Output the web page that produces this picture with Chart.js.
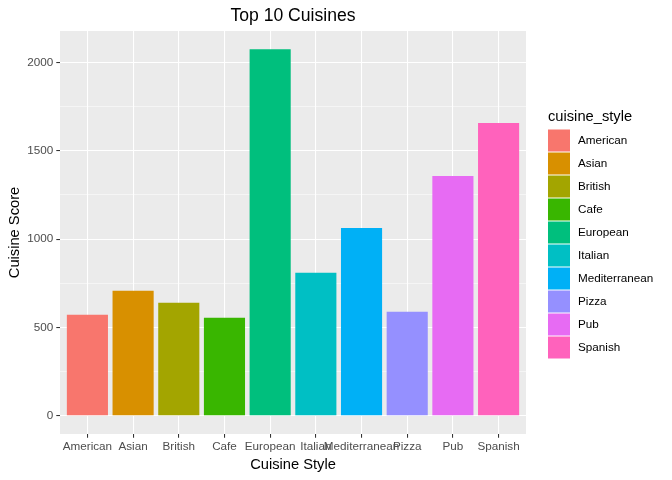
<!DOCTYPE html>
<html>
<head>
<meta charset="utf-8">
<script src="https://cdn.jsdelivr.net/npm/chart.js@4.4.1/dist/chart.umd.min.js"></script>
<style>
  html, body { margin: 0; padding: 0; background: #fff; }
  #wrap { width: 672px; height: 480px; }
</style>
</head>
<body>
<div id="wrap"><canvas id="chart" width="672" height="480"></canvas></div>
<script>
const cuisines = ['American', 'Asian', 'British', 'Cafe', 'European', 'Italian', 'Mediterranean', 'Pizza', 'Pub', 'Spanish'];
const scores = [571, 707, 639, 554, 2075, 809, 1063, 588, 1357, 1657];
const colors = ['#F8766D', '#D89000', '#A3A500', '#39B600', '#00BF7D', '#00BFC4', '#00B0F6', '#9590FF', '#E76BF3', '#FF62BC'];
const yTicks = [0, 250, 500, 750, 1000, 1250, 1500, 1750, 2000];

const FONT = 'Liberation Sans, Arial, sans-serif';
const maxScore = Math.max(...scores);

const panelBg = {
    id: 'panelBg',
    beforeDraw(chart) {
        const a = chart.chartArea;
        const ctx = chart.ctx;
        ctx.save();
        ctx.fillStyle = '#EBEBEB';
        ctx.fillRect(a.left, a.top, a.right - a.left, a.bottom - a.top);
        ctx.restore();
    }
};

const extras = {
    id: 'extras',
    afterDraw(chart) {
        const a = chart.chartArea;
        const ctx = chart.ctx;
        ctx.save();
        // title
        ctx.fillStyle = '#000';
        ctx.font = '17.6px ' + FONT;
        ctx.textAlign = 'center';
        ctx.textBaseline = 'middle';
        ctx.fillText('Top 10 Cuisines', (a.left + a.right) / 2, 16);

        // legend
        ctx.textAlign = 'left';
        ctx.font = '14.7px ' + FONT;
        ctx.fillText('cuisine_style', 548, 117);
        ctx.font = '11.7px ' + FONT;
        cuisines.forEach((c, i) => {
            const y = 129.5 + i * 23;
            ctx.fillStyle = colors[i];
            ctx.fillRect(548, y, 22, 22);
            ctx.fillStyle = '#000';
            ctx.fillText(c, 578, y + 11);
        });
        ctx.restore();
    }
};

new Chart(document.getElementById('chart'), {
    type: 'bar',
    data: {
        datasets: [{
            data: scores.map((v, i) => ({ x: i + 1, y: v })),
            backgroundColor: colors,
            borderWidth: 0,
            categoryPercentage: 1,
            barPercentage: 0.9
        }]
    },
    options: {
        responsive: false,
        animation: false,
        layout: { padding: { top: 31, right: 146, left: 0, bottom: 0 } },
        plugins: {
            legend: { display: false },
            tooltip: { enabled: false }
        },
        scales: {
            x: {
                type: 'linear',
                min: 0.4,
                max: 10.6,
                offset: false,
                afterBuildTicks: s => { s.ticks = cuisines.map((c, i) => ({ value: i + 1 })); },
                afterFit: s => { s.height = 46; },
                border: { display: false },
                grid: {
                    offset: false,
                    color: '#FFFFFF',
                    lineWidth: 1.07,
                    tickColor: '#333333',
                    tickLength: 3.7,
                    tickWidth: 1.07
                },
                ticks: {
                    autoSkip: false,
                    maxRotation: 0,
                    minRotation: 0,
                    padding: 2,
                    color: '#4D4D4D',
                    font: { family: FONT, size: 11.7 },
                    callback: v => cuisines[v - 1]
                },
                title: {
                    display: true,
                    text: 'Cuisine Style',
                    color: '#000',
                    font: { family: FONT, size: 14.7 },
                    padding: { top: 0, bottom: 6.2 }
                }
            },
            y: {
                min: -0.05 * maxScore,
                max: 1.05 * maxScore,
                afterBuildTicks: s => { s.ticks = yTicks.map(v => ({ value: v })); },
                afterFit: s => { s.width = 60; },
                border: { display: false },
                grid: {
                    color: '#FFFFFF',
                    lineWidth: c => (c.tick && c.tick.value % 500 === 0) ? 1.07 : 0.53,
                    tickColor: c => (c.tick && c.tick.value % 500 === 0) ? '#333333' : 'rgba(0,0,0,0)',
                    tickLength: 3.7,
                    tickWidth: 1.07
                },
                ticks: {
                    padding: 3,
                    color: '#4D4D4D',
                    font: { family: FONT, size: 11.7 },
                    callback: v => (v % 500 === 0 ? String(v) : '')
                },
                title: {
                    display: true,
                    text: 'Cuisine Score',
                    color: '#000',
                    font: { family: FONT, size: 14.7 },
                    padding: { top: 6.2, bottom: 0 }
                }
            }
        }
    },
    plugins: [panelBg, extras]
});
</script>
</body>
</html>
